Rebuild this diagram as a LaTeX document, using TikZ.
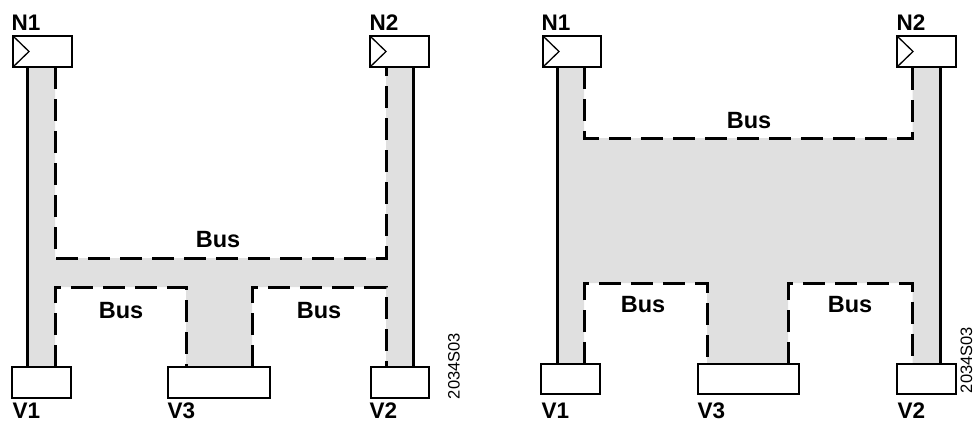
\documentclass[tikz,border=0pt]{standalone}
\usepackage{fontspec}
\setmainfont{Liberation Sans}
\usetikzlibrary{calc}
\definecolor{busgrey}{HTML}{E0E0E0}
\begin{document}
\begin{tikzpicture}[x=1pt,y=-1pt,
  unitbox/.style={draw, line width=1.5pt, fill=white, minimum height=31pt, inner sep=0pt, outer sep=0pt},
  wire/.style={line width=3pt},
  buswire/.style={line width=3pt, dash pattern=on 22pt off 10pt},
  lbl/.style={font=\bfseries\fontsize{22.5}{24}\selectfont, inner sep=0pt},
  buslbl/.style={font=\bfseries\fontsize{23.5}{25}\selectfont, inner sep=0pt, anchor=base},
  reflbl/.style={font=\fontsize{16.5}{18}\selectfont, inner sep=0pt, rotate=90, anchor=base},
  tri/.style={line width=1.3pt}]
\useasboundingbox (0,0) rectangle (977,423);

% ================= left diagram =================
\coordinate (aL) at (27,0);
\coordinate (aD1) at (55,0);
\coordinate (aS1) at (186,0);
\coordinate (aS2) at (252,0);
\coordinate (aD2) at (386,0);
\coordinate (aR) at (413,0);
\coordinate (aTopBus) at (220,258);
\coordinate (aLowBusL) at (120,287);
\coordinate (aLowBusR) at (320,287);

\fill[busgrey] (27,67) -- (55,67) -- (55,258) -- (386,258) -- (386,67) -- (413,67)
  -- (413,367) -- (386,367) -- (386,287) -- (252,287) -- (252,367) -- (186,367)
  -- (186,287) -- (55,287) -- (55,367) -- (27,367) -- cycle;

\node[unitbox, minimum width=59pt] (aN1) at (42.5,51.5) {};
\node[unitbox, minimum width=59pt] (aN2) at (399.5,51.5) {};
\node[unitbox, minimum width=59pt] (aV1) at (41.5,382.5) {};
\node[unitbox, minimum width=102pt] (aV3) at (219,382.5) {};
\node[unitbox, minimum width=58pt] (aV2) at (400,382.5) {};

\draw[tri] (aN1.north west) -- ($(aN1.west)+(16,0)$) -- (aN1.south west);
\draw[tri] (aN2.north west) -- ($(aN2.west)+(16,0)$) -- (aN2.south west);

\draw[wire] (aN1.south -| aL) -- (aV1.north -| aL);
\draw[wire] (aN2.south -| aR) -- (aV2.north -| aR);

\draw[buswire] (aN1.south -| aD1) |- (aTopBus) -| (aN2.south -| aD2);
\draw[buswire] (aV1.north -| aD1) |- (aLowBusL) -| (aV3.north -| aS1);
\draw[buswire] (aV3.north -| aS2) |- (aLowBusR) -| (aV2.north -| aD2);

\node[lbl, anchor=base west] (aN1t) at (11.5,30) {N1};
\node[lbl, anchor=base west] (aN2t) at (369.5,30) {N2};
\node[lbl, anchor=base west] (aV1t) at (12.5,418) {V1};
\node[lbl, anchor=base west] (aV3t) at (167.5,418) {V3};
\node[lbl, anchor=base west] (aV2t) at (369.5,418) {V2};

\node[buslbl] (aBusT) at (218,247) {Bus};
\node[buslbl] (aBusL) at (121,318) {Bus};
\node[buslbl] (aBusR) at (319,318) {Bus};

\node[reflbl] (aRef) at (459.5,366) {2034S03};

% ================= right diagram =================
\coordinate (bL) at (557,0);
\coordinate (bD1) at (584,0);
\coordinate (bS1) at (707,0);
\coordinate (bS2) at (788,0);
\coordinate (bD2) at (912.5,0);
\coordinate (bR) at (940,0);
\coordinate (bTopBus) at (748,138);
\coordinate (bLowBusL) at (645,283);
\coordinate (bLowBusR) at (850,283);

\fill[busgrey] (557,67) -- (584,67) -- (584,138) -- (912.5,138) -- (912.5,67) -- (940,67)
  -- (940,364) -- (912.5,364) -- (912.5,283) -- (788,283) -- (788,364) -- (707,364)
  -- (707,283) -- (584,283) -- (584,364) -- (557,364) -- cycle;

\node[unitbox, minimum width=58pt] (bN1) at (572,51.5) {};
\node[unitbox, minimum width=59pt] (bN2) at (926.5,51.5) {};
\node[unitbox, minimum width=59pt, minimum height=30pt] (bV1) at (570.5,379) {};
\node[unitbox, minimum width=101pt, minimum height=30pt] (bV3) at (748.5,379) {};
\node[unitbox, minimum width=59pt, minimum height=30pt] (bV2) at (926.5,379) {};

\draw[tri] (bN1.north west) -- ($(bN1.west)+(16,0)$) -- (bN1.south west);
\draw[tri] (bN2.north west) -- ($(bN2.west)+(16,0)$) -- (bN2.south west);

\draw[wire] (bN1.south -| bL) -- (bV1.north -| bL);
\draw[wire] (bN2.south -| bR) -- (bV2.north -| bR);

\draw[buswire] (bN1.south -| bD1) |- (bTopBus) -| (bN2.south -| bD2);
\draw[buswire] (bV1.north -| bD1) |- (bLowBusL) -| (bV3.north -| bS1);
\draw[buswire] (bV3.north -| bS2) |- (bLowBusR) -| (bV2.north -| bD2);

\node[lbl, anchor=base west] (bN1t) at (541.5,30.5) {N1};
\node[lbl, anchor=base west] (bN2t) at (896.5,30.5) {N2};
\node[lbl, anchor=base west] (bV1t) at (541.5,418) {V1};
\node[lbl, anchor=base west] (bV3t) at (697.5,418) {V3};
\node[lbl, anchor=base west] (bV2t) at (897.5,418) {V2};

\node[buslbl] (bBusT) at (749,128) {Bus};
\node[buslbl] (bBusL) at (643,312) {Bus};
\node[buslbl] (bBusR) at (850,312) {Bus};

\node[reflbl] (bRef) at (972,360) {2034S03};
\end{tikzpicture}
\end{document}
